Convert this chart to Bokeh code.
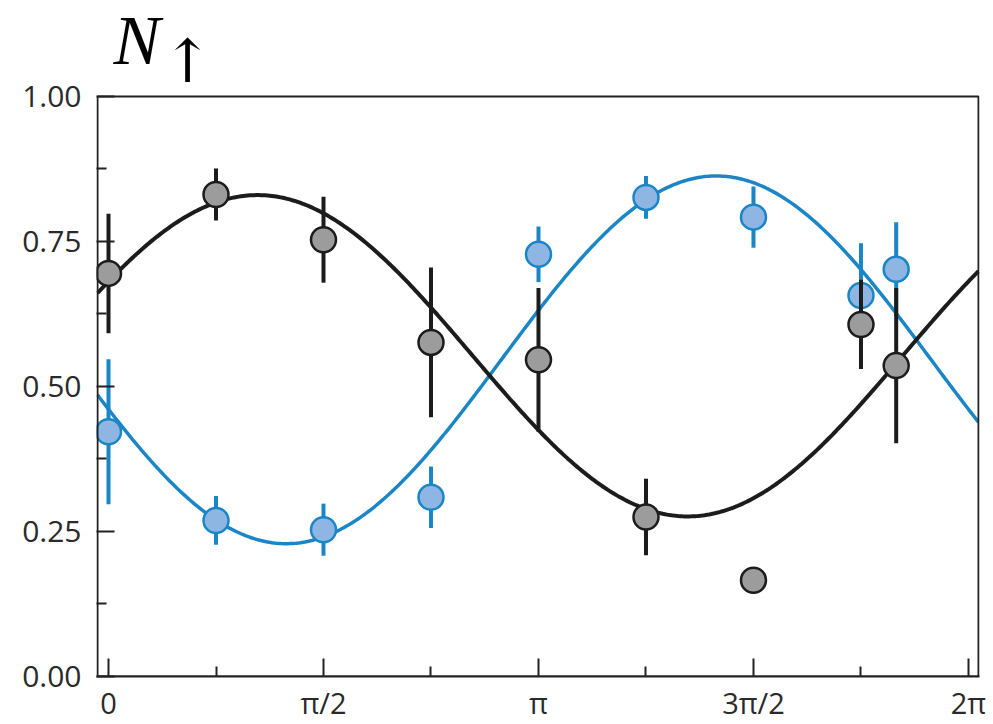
import numpy as np
from bokeh.plotting import figure
from bokeh.models import BoxAnnotation, ColumnDataSource, FixedTicker, Range1d
from bokeh.core.properties import value
from bokeh.embed import file_html
from bokeh.resources import INLINE

PI = np.pi

# Phase values (rad) at which N_up was measured
phase = [0.0, PI / 4, PI / 2, 3 * PI / 4, PI, 5 * PI / 4, 3 * PI / 2, 7 * PI / 4, 5.755]

# Spin-up population, dark series, with error
dark_n = [0.695, 0.831, 0.753, 0.576, 0.546, 0.275, 0.166, 0.607, 0.536]
dark_err = [0.103, 0.045, 0.074, 0.129, 0.124, 0.066, 0.023, 0.077, 0.134]

# Spin-up population, blue series, with error
blue_n = [0.422, 0.269, 0.253, 0.309, 0.728, 0.826, 0.792, 0.657, 0.702]
blue_err = [0.125, 0.042, 0.045, 0.053, 0.048, 0.037, 0.053, 0.090, 0.081]

# Sinusoidal fits: offset + amplitude * cos(phase - phi0)
dark_fit = dict(offset=0.553, amp=0.277, phi0=1.09)
blue_fit = dict(offset=0.546, amp=0.317, phi0=4.44)

x_ticks = [0, PI / 2, PI, 3 * PI / 2, 2 * PI]
x_tick_labels = ["0", "π/2", "π", "3π/2", "2π"]
x_minor = [PI / 4, 3 * PI / 4, 5 * PI / 4, 7 * PI / 4]
y_ticks = [0.0, 0.25, 0.5, 0.75, 1.0]
y_tick_labels = ["0.00", "0.25", "0.50", "0.75", "1.00"]
y_minor = [0.125, 0.375, 0.625, 0.875]

DARK = "#1c1c1c"
GREY_FILL = "#9c9c9c"
BLUE = "#1b86c6"
BLUE_FILL = "#8fb5e3"
AXIS = "#222222"

# Plot box in data units; the frame runs up to the top of the page so the
# quantity name can sit above the box.
BOX_X = (-0.0804, 6.3564)
FRAME_X = (-0.0877, 6.3637)
FRAME_Y = (0.0, 1.1655)
PX_PER_UNIT_X = 136.87
PX_PER_UNIT_Y = 580.0

p = figure(
    width=993, height=724,
    frame_width=883, frame_height=676,
    min_border_left=96, min_border_right=14,
    min_border_top=0, min_border_bottom=48,
    x_range=Range1d(*FRAME_X), y_range=Range1d(*FRAME_Y),
    output_backend="svg", toolbar_location=None,
    background_fill_color="white", border_fill_color="white",
)
p.grid.visible = False
p.outline_line_color = None

for ax in (p.xaxis[0], p.yaxis[0]):
    ax.axis_line_color = AXIS
    ax.axis_line_width = 2
    ax.major_tick_line_color = AXIS
    ax.minor_tick_line_color = AXIS
    ax.major_tick_line_width = 2
    ax.minor_tick_line_width = 2
    ax.major_tick_in = 18
    ax.major_tick_out = 0
    ax.minor_tick_in = 10
    ax.minor_tick_out = 0
    ax.major_label_text_font = "Open Sans"
    ax.major_label_text_font_size = "30px"
    ax.major_label_text_color = "#2a2a2a"

p.yaxis.axis_line_color = None
p.xaxis.ticker = FixedTicker(ticks=x_ticks, minor_ticks=x_minor)
p.xaxis.major_label_overrides = dict(zip(x_ticks, x_tick_labels))
p.xaxis.major_label_standoff = 6
p.xaxis.major_label_text_font_size = "29px"
p.yaxis.ticker = FixedTicker(ticks=y_ticks, minor_ticks=y_minor)
p.yaxis.major_label_overrides = dict(zip(y_ticks, y_tick_labels))
p.yaxis.major_label_standoff = 15

# Box around the plotting area
p.add_layout(BoxAnnotation(left=BOX_X[0], right=BOX_X[1], bottom=0, top=1,
                           fill_alpha=0, line_color=AXIS, line_alpha=1,
                           line_width=2))

# Fit curves
xs = np.linspace(BOX_X[0], BOX_X[1], 400)
blue_curve = blue_fit["offset"] + blue_fit["amp"] * np.cos(xs - blue_fit["phi0"])
dark_curve = dark_fit["offset"] + dark_fit["amp"] * np.cos(xs - dark_fit["phi0"])
p.line(xs, blue_curve, line_color=BLUE, line_width=3.5)
p.line(xs, dark_curve, line_color=DARK, line_width=4)

dark_src = ColumnDataSource(dict(
    x=phase, y=dark_n,
    lo=[v - e for v, e in zip(dark_n, dark_err)],
    hi=[v + e for v, e in zip(dark_n, dark_err)],
))
blue_src = ColumnDataSource(dict(
    x=phase, y=blue_n,
    lo=[v - e for v, e in zip(blue_n, blue_err)],
    hi=[v + e for v, e in zip(blue_n, blue_err)],
))

p.segment(x0="x", y0="lo", x1="x", y1="hi", source=blue_src,
          line_color=BLUE, line_width=4)
p.scatter(x="x", y="y", source=blue_src, size=25,
          fill_color=BLUE_FILL, line_color=BLUE, line_width=2.5)
p.segment(x0="x", y0="lo", x1="x", y1="hi", source=dark_src,
          line_color=DARK, line_width=4)
p.scatter(x="x", y="y", source=dark_src, size=25,
          fill_color=GREY_FILL, line_color=DARK, line_width=2.5)

# Quantity name N with an up-arrow subscript, above the box
p.text(x=[BOX_X[0] + 16 / PX_PER_UNIT_X], y=[1 + 56 / PX_PER_UNIT_Y], text=["N"],
       text_font=value("Liberation Serif"), text_font_style="italic",
       text_font_size="70px", text_color="black",
       text_align="left", text_baseline="alphabetic")
p.text(x=[BOX_X[0] + 90 / PX_PER_UNIT_X], y=[1 + 35 / PX_PER_UNIT_Y], text=["↑"],
       text_font=value("DejaVu Serif"), text_font_size="60px",
       text_color="black", text_align="center", text_baseline="alphabetic")

open("out.html", "w").write(file_html(p, INLINE))
